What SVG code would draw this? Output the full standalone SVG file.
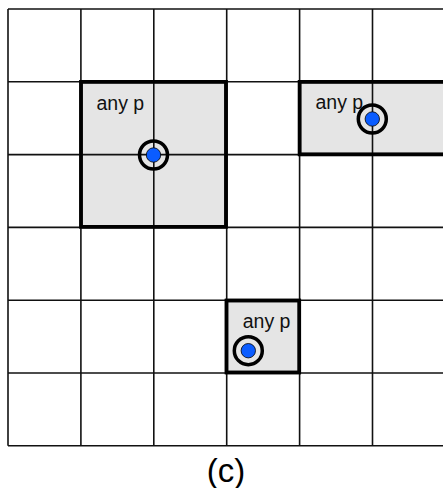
<svg xmlns="http://www.w3.org/2000/svg" width="443" height="488" viewBox="0 0 443 488">
  <style>
    .grid { stroke: #111; stroke-width: 1.6; fill: none; }
    .box { fill: #e5e5e5; stroke: #000; stroke-width: 3.5; }
    .frame { fill: none; stroke: #000; stroke-width: 3.5; }
    .ring { fill: none; stroke: #000; stroke-width: 3.5; }
    .dot { fill: #0a5cff; stroke: #000; stroke-width: 0.8; }
    .lbl { font-family: "Liberation Sans", Arial, sans-serif; font-size: 19.5px; fill: #111; }
    .cap { font-family: "Liberation Sans", Arial, sans-serif; font-size: 33px; fill: #000; }
  </style>
  <rect x="0" y="0" width="443" height="488" fill="#fff"/>
  <g id="fills">
    <rect class="box" x="81" y="81.8" width="145" height="145"/>
    <rect class="box" x="299.6" y="81.8" width="150" height="72.6"/>
    <rect class="box" x="226.5" y="300.5" width="72.8" height="72"/>
  </g>
  <g id="grid">
    <line class="grid" x1="8" y1="9" x2="8" y2="445.8"/>
    <line class="grid" x1="80.9" y1="9" x2="80.9" y2="445.8"/>
    <line class="grid" x1="153.8" y1="9" x2="153.8" y2="445.8"/>
    <line class="grid" x1="226.7" y1="9" x2="226.7" y2="445.8"/>
    <line class="grid" x1="299.6" y1="9" x2="299.6" y2="445.8"/>
    <line class="grid" x1="372.5" y1="9" x2="372.5" y2="445.8"/>
    <line class="grid" x1="8" y1="9" x2="443" y2="9"/>
    <line class="grid" x1="8" y1="81.8" x2="443" y2="81.8"/>
    <line class="grid" x1="8" y1="154.6" x2="443" y2="154.6"/>
    <line class="grid" x1="8" y1="227.4" x2="443" y2="227.4"/>
    <line class="grid" x1="8" y1="300.2" x2="443" y2="300.2"/>
    <line class="grid" x1="8" y1="373" x2="443" y2="373"/>
    <line class="grid" x1="8" y1="445.8" x2="443" y2="445.8"/>
  </g>
  <g id="box-a">
    <rect class="frame" x="81" y="81.8" width="145" height="145"/>
    <text class="lbl" x="96.5" y="110">any p</text>
  </g>
  <g id="box-b">
    <rect class="frame" x="299.6" y="81.8" width="150" height="72.6"/>
    <text class="lbl" x="315.5" y="108.5">any p</text>
  </g>
  <g id="box-c">
    <rect class="frame" x="226.5" y="300.5" width="72.8" height="72"/>
    <text class="lbl" x="242.7" y="327.5">any p</text>
  </g>
  <g id="point-a">
    <circle class="ring" cx="153.5" cy="155" r="14"/>
    <circle class="dot" cx="153.5" cy="155" r="7.2"/>
  </g>
  <g id="point-b">
    <circle class="ring" cx="372.3" cy="119" r="14"/>
    <circle class="dot" cx="372.3" cy="119" r="7.2"/>
  </g>
  <g id="point-c">
    <circle class="ring" cx="248.3" cy="350.7" r="14"/>
    <circle class="dot" cx="248.3" cy="350.7" r="7.2"/>
  </g>
  <text class="cap" x="226" y="482" text-anchor="middle">(c)</text>
</svg>
